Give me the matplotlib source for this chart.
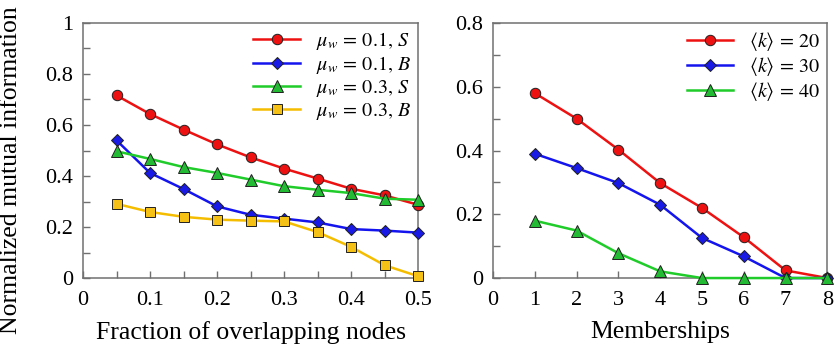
import matplotlib
matplotlib.use("Agg")
import matplotlib.pyplot as plt
from matplotlib.ticker import FixedLocator

plt.rcParams['font.family'] = ['Liberation Serif', 'DejaVu Serif']
plt.rcParams['mathtext.fontset'] = 'stix'

# Left panel data
frac = [0.05, 0.10, 0.15, 0.20, 0.25, 0.30, 0.35, 0.40, 0.45, 0.50]
mu01_S = [0.716, 0.643, 0.582, 0.524, 0.473, 0.429, 0.390, 0.350, 0.324, 0.287]
mu01_B = [0.540, 0.412, 0.349, 0.281, 0.248, 0.233, 0.218, 0.192, 0.186, 0.178]
mu03_S = [0.497, 0.467, 0.435, 0.412, 0.386, 0.360, 0.346, 0.333, 0.311, 0.307]
mu03_B = [0.291, 0.259, 0.240, 0.229, 0.225, 0.222, 0.180, 0.122, 0.050, 0.007]
left_labels = [r'$\mu_w\,=\,0.1,\,S$', r'$\mu_w\,=\,0.1,\,B$',
               r'$\mu_w\,=\,0.3,\,S$', r'$\mu_w\,=\,0.3,\,B$']

# Right panel data
memb = [1, 2, 3, 4, 5, 6, 7, 8]
k20 = [0.580, 0.500, 0.403, 0.298, 0.220, 0.128, 0.024, 0.0]
k30 = [0.390, 0.345, 0.298, 0.230, 0.126, 0.068, 0.0, 0.0]
k40 = [0.180, 0.149, 0.078, 0.021, 0.0, 0.0, 0.0, 0.0]
right_labels = [r'$\langle k\rangle\,=\,20$', r'$\langle k\rangle\,=\,30$',
                r'$\langle k\rangle\,=\,40$']

line_cols = ['#ee1111', '#1414ee', '#1fcc2a', '#f5bd00']
mark_cols = ['#ee1111', '#1a1ae6', '#22bb33', '#f6c117']
markers = ['o', 'D', '^', 's']
msizes = [7.5, 6.5, 8, 7]

fig = plt.figure(figsize=(8.34, 3.48), dpi=100)
ax1 = fig.add_axes([0.0995, 0.201, 0.402, 0.733])
ax2 = fig.add_axes([0.591, 0.201, 0.401, 0.733])

for i, ys in enumerate([mu01_S, mu01_B, mu03_S, mu03_B]):
    ax1.plot(frac, ys, color=line_cols[i], lw=1.8, marker=markers[i], ms=msizes[i],
             mfc=mark_cols[i], mec='#202020', mew=0.7, label=left_labels[i],
             clip_on=False, zorder=3)

for i, ys in enumerate([k20, k30, k40]):
    ax2.plot(memb, ys, color=line_cols[i], lw=1.8, marker=markers[i], ms=msizes[i],
             mfc=mark_cols[i], mec='#202020', mew=0.7, label=right_labels[i],
             clip_on=False, zorder=3 + (i if i != 2 else 3))

ax1.set_xlim(0, 0.5)
ax1.set_ylim(0, 1)
ax1.set_xticks([0, 0.1, 0.2, 0.3, 0.4, 0.5])
ax1.set_xticklabels(['0', '0.1', '0.2', '0.3', '0.4', '0.5'])
ax1.set_yticks([0, 0.2, 0.4, 0.6, 0.8, 1.0])
ax1.set_yticklabels(['0', '0.2', '0.4', '0.6', '0.8', '1'])
ax1.xaxis.set_minor_locator(FixedLocator([0.05, 0.15, 0.25, 0.35, 0.45]))
ax1.yaxis.set_minor_locator(FixedLocator([0.1, 0.3, 0.5, 0.7, 0.9]))
ax1.set_xlabel('Fraction of overlapping nodes', fontsize=18.5, labelpad=8)
ax1.set_ylabel('Normalized mutual information', fontsize=18.5)
ax1.yaxis.set_label_coords(-0.182, 0.424)

ax2.set_xlim(0, 8)
ax2.set_ylim(0, 0.8)
ax2.set_xticks(range(0, 9))
ax2.set_yticks([0, 0.2, 0.4, 0.6, 0.8])
ax2.set_yticklabels(['0', '0.2', '0.4', '0.6', '0.8'])
ax2.yaxis.set_minor_locator(FixedLocator([0.1, 0.3, 0.5, 0.7]))
ax2.set_xlabel('Memberships', fontsize=18.5, labelpad=8)

for ax in (ax1, ax2):
    for s in ax.spines.values():
        s.set_color('#707070')
        s.set_linewidth(1.1)
    ax.tick_params(which='both', direction='in', length=5, width=1.0,
                   color='#707070', labelsize=16, top=False, right=False)
    ax.tick_params(axis='x', pad=9)
    ax.tick_params(axis='y', pad=7)
    ax.legend(loc='upper right', frameon=False, fontsize=14.5,
              handlelength=2.3, handletextpad=0.8, labelspacing=0.1,
              borderaxespad=0.15, borderpad=0.2)

fig.savefig('out.png', dpi=100)
